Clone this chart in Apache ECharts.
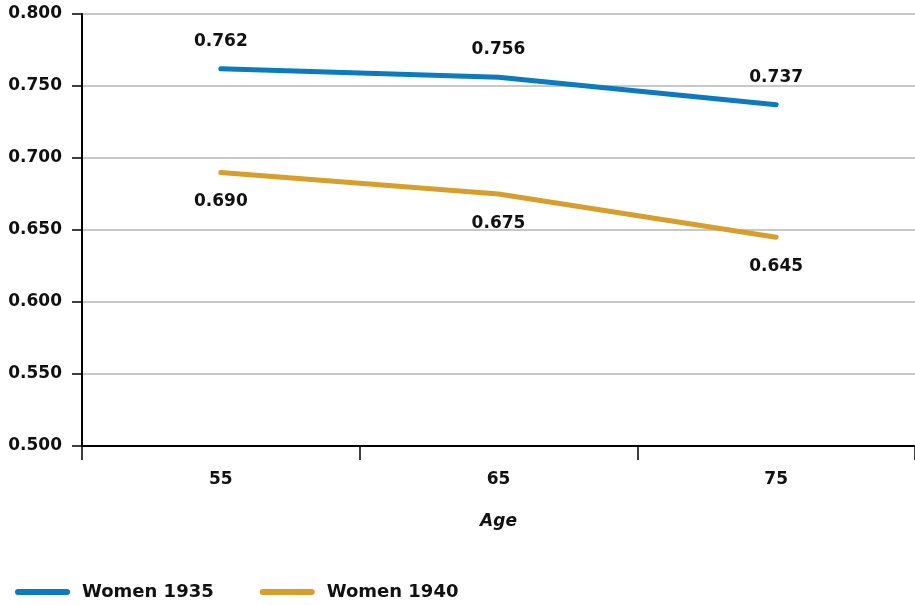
<!DOCTYPE html>
<html><head><meta charset="utf-8">
<script src="https://cdn.jsdelivr.net/npm/echarts@6/dist/echarts.min.js"></script>
<style>html,body{margin:0;padding:0;background:#fff}#c{width:915px;height:605px}</style>
</head><body><div id="c"></div>
<script>
var categories = ['55', '65', '75'];
var women1935 = [0.762, 0.756, 0.737];
var women1940 = [0.690, 0.675, 0.645];
var seriesNames = ['Women 1935', 'Women 1940'];
var FONT = 'DejaVu Sans';
var C1 = '#0a7bc0', C2 = '#d89e2a';
var chart = echarts.init(document.getElementById('c'));
function lbl(pos, dist) {
  return { show: true, position: pos, distance: dist, color: '#111', fontFamily: FONT, fontWeight: 'bold', fontSize: 17,
    formatter: function (p) { return p.value.toFixed(3); } };
}
var legendIcon = 'path://M3,0 L52,0 A3,3 0 0 1 52,6 L3,6 A3,3 0 0 1 3,0 Z';
chart.setOption({
  animation: false,
  textStyle: { fontFamily: FONT },
  grid: { left: 82, right: 0, top: 14, bottom: 159 },
  legend: {
    left: 10, bottom: -1, itemWidth: 55, itemHeight: 6, itemGap: 46, icon: legendIcon,
    textStyle: { fontFamily: FONT, fontWeight: 'bold', fontSize: 18, color: '#111', padding: [0, 0, 0, 7] },
    data: [
      { name: seriesNames[0], itemStyle: { color: C1, borderWidth: 0 } },
      { name: seriesNames[1], itemStyle: { color: C2, borderWidth: 0 } }
    ]
  },
  xAxis: {
    type: 'category', data: categories, boundaryGap: true,
    name: 'Age', nameLocation: 'middle', nameGap: 67,
    nameTextStyle: { fontFamily: FONT, fontWeight: 'bold', fontStyle: 'italic', fontSize: 17, color: '#111' },
    axisLine: { lineStyle: { color: '#000', width: 2 } },
    axisTick: { show: true, length: 14, lineStyle: { color: '#000', width: 1.5 } },
    axisLabel: { fontFamily: FONT, fontWeight: 'bold', fontSize: 17, color: '#111', margin: 25 }
  },
  yAxis: {
    type: 'value', min: 0.5, max: 0.8, interval: 0.05,
    axisLine: { show: true, lineStyle: { color: '#000', width: 2 } },
    axisTick: { show: true, length: 10, lineStyle: { color: '#000', width: 1.5 } },
    axisLabel: { fontFamily: FONT, fontWeight: 'bold', fontSize: 17, color: '#111', margin: 20,
      formatter: function (v) { return v.toFixed(3); } },
    splitLine: { lineStyle: { color: '#c8c8c8', width: 2 } }
  },
  series: [
    { name: seriesNames[0], type: 'line', data: women1935, symbol: 'circle', symbolSize: 0.1, showSymbol: true,
      itemStyle: { color: C1 }, color: C1,
      lineStyle: { width: 5, cap: 'round', color: C1 }, label: lbl('top', 19) },
    { name: seriesNames[1], type: 'line', data: women1940, symbol: 'circle', symbolSize: 0.1, showSymbol: true,
      itemStyle: { color: C2 }, color: C2,
      lineStyle: { width: 5, cap: 'round', color: C2 }, label: lbl('bottom', 21) }
  ]
});
</script></body></html>
